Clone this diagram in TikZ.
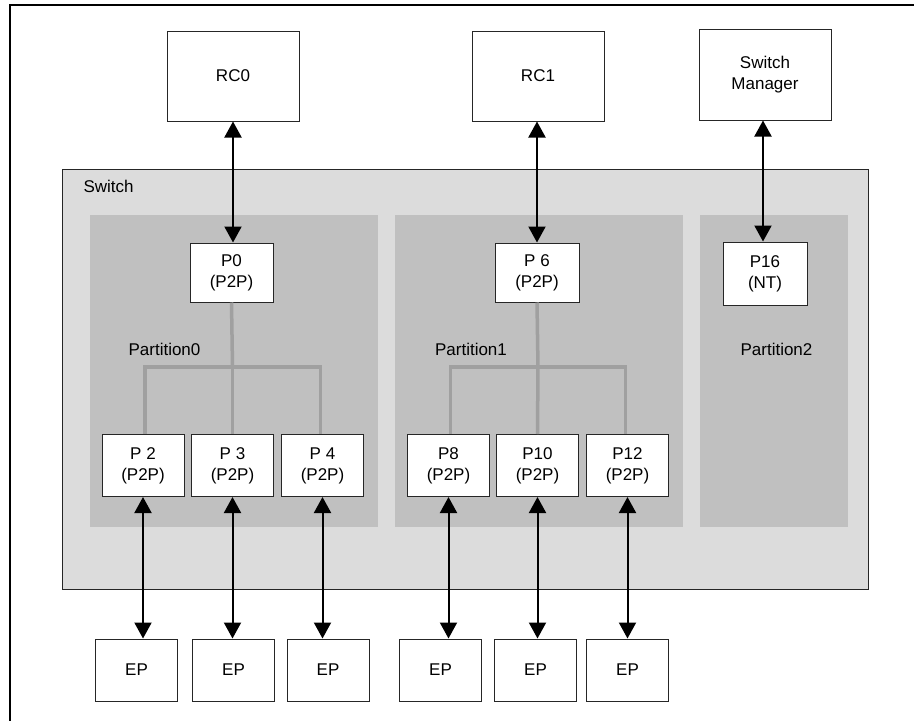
\documentclass[tikz,border=0pt]{standalone}
\usepackage{fontspec}
\setmainfont{Liberation Sans}
\usetikzlibrary{arrows.meta}
\definecolor{swfill}{HTML}{DCDCDC}
\definecolor{ptfill}{HTML}{C0C0C0}
\definecolor{treegray}{HTML}{A0A0A0}
\begin{document}
\begin{tikzpicture}[x=1pt,y=-1pt,
  every node/.style={font=\fontsize{17}{21}\selectfont},
  box/.style={draw=black!85, fill=white, line width=1pt, inner sep=0pt, align=center},
  bigbox/.style={box, minimum width=132pt, minimum height=90pt},
  pbox/.style={box, minimum width=82pt, minimum height=62pt},
  epbox/.style={box, minimum width=82pt, minimum height=62pt},
  arr/.style={line width=2pt, {Triangle[length=16pt,width=17pt]}-{Triangle[length=16pt,width=17pt]}},
  tree/.style={draw=treegray, line width=3.5pt}]
\useasboundingbox (0,0) rectangle (914,721);
% outer frame (left and top edges)
\draw[line width=2pt] (10,721) -- (10,5) -- (914,5);
% switch
\draw[fill=swfill, draw=black!85, line width=1pt] (62,169) rectangle (868,589);
\node[anchor=west] (swl) at (80,186) {Switch};
% partitions
\fill[ptfill] (90,215) rectangle (378,527);
\fill[ptfill] (395,215) rectangle (683,527);
\fill[ptfill] (700,215) rectangle (848,527);
\node (pl0) at (164.5,349) {Partition0};
\node (pl1) at (471,349) {Partition1};
\node (pl2) at (776.5,349) {Partition2};
% top boxes
\node[bigbox] (rc0) at (233,76) {RC0};
\node[bigbox] (rc1) at (538,76) {RC1};
\node[bigbox, minimum height=91pt] (sm) at (765,74.5) {Switch\\Manager};
% upper ports
\node[pbox, minimum width=83pt, minimum height=59pt] (p0) at (231.5,272.5) {P0\\(P2P)};
\node[pbox, minimum width=84pt, minimum height=59pt] (p6) at (537,272.5) {P 6\\(P2P)};
\node[pbox, minimum width=84pt, minimum height=63pt] (p16) at (765,273.5) {P16\\(NT)};
% lower ports
\node[pbox] (p2) at (143,465.5) {P 2\\(P2P)};
\node[pbox] (p3) at (232.5,465.5) {P 3\\(P2P)};
\node[pbox] (p4) at (322.5,465.5) {P 4\\(P2P)};
\node[pbox] (p8) at (448.5,465.5) {P8\\(P2P)};
\node[pbox] (p10) at (537.5,465.5) {P10\\(P2P)};
\node[pbox] (p12) at (627.5,465.5) {P12\\(P2P)};
% endpoints
\node[epbox] (ep1) at (136.5,670) {EP};
\node[epbox] (ep2) at (233.5,670) {EP};
\node[epbox] (ep3) at (328,670) {EP};
\node[epbox] (ep4) at (440.5,670) {EP};
\node[epbox] (ep5) at (535.5,670) {EP};
\node[epbox] (ep6) at (627.5,670) {EP};
% trees
\coordinate (j0) at (232.5,367);
\coordinate (j1) at (538,367);
\draw[tree] (p0.south) -- (j0);
\draw[tree] ([xshift=2pt]p2.north) |- (j0) -| ([xshift=-2pt]p4.north);
\draw[tree] (j0) -- (p3.north);
\draw[tree] (p6.south) -- (j1);
\draw[tree] ([xshift=2pt]p8.north) |- (j1) -| ([xshift=-2pt]p12.north);
\draw[tree] (j1) -- (p10.north);
% top arrows
\draw[arr] (rc0.south) -- (rc0.south |- p0.north);
\draw[arr] ([xshift=-1pt]rc1.south) -- ([xshift=-1pt]rc1.south |- p6.north);
\draw[arr] ([xshift=-2pt]sm.south) -- ([xshift=-2pt]sm.south |- p16.north);
% bottom arrows
\draw[arr] (p2.south) -- (p2.south |- ep1.north);
\draw[arr] (p3.south) -- (p3.south |- ep2.north);
\draw[arr] (p4.south) -- (p4.south |- ep3.north);
\draw[arr] (p8.south) -- (p8.south |- ep4.north);
\draw[arr] (p10.south) -- (p10.south |- ep5.north);
\draw[arr] (p12.south) -- (p12.south |- ep6.north);
\end{tikzpicture}
\end{document}
